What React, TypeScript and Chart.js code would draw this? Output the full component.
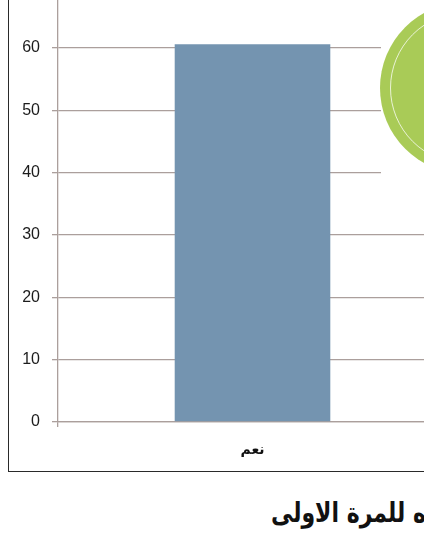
import React, { useEffect, useRef } from "react";
import { Chart, registerables } from "chart.js";

Chart.register(...registerables);

const categories: string[] = ["نعم"];
const values: number[] = [60.6];
const yTicks: number[] = [0, 10, 20, 30, 40, 50, 60, 70];
const caption = "ه للمرة الاولى";

const GRID = "#ab9f9c";
const BAR = "#7494b0";

export default function App() {
  const ref = useRef<HTMLCanvasElement | null>(null);

  useEffect(() => {
    if (!ref.current) return;
    const chart = new Chart(ref.current, {
      type: "bar",
      data: {
        labels: categories,
        datasets: [
          {
            data: values,
            backgroundColor: BAR,
            borderWidth: 0,
            barPercentage: 0.4,
            categoryPercentage: 1,
          },
        ],
      },
      options: {
        responsive: false,
        animation: false,
        events: [],
        layout: { padding: { top: 25.67, right: 33, left: 0, bottom: 0 } },
        plugins: { legend: { display: false }, tooltip: { enabled: false } },
        scales: {
          x: {
            type: "category",
            grid: {
              display: true,
              drawOnChartArea: false,
              drawTicks: true,
              tickLength: 5,
              color: GRID,
              lineWidth: 1.3,
            },
            border: { display: true, color: GRID, width: 1.3 },
            ticks: {
              color: "#111",
              padding: 15,
              font: { family: "'DejaVu Sans', sans-serif", size: 14, weight: "bold" },
            },
            afterFit: (s: any) => {
              s.height = 40;
            },
          },
          y: {
            min: yTicks[0],
            max: yTicks[yTicks.length - 1],
            afterBuildTicks: (s: any) => {
              s.ticks = yTicks.map((v) => ({ value: v }));
            },
            grid: {
              color: GRID,
              lineWidth: 1.3,
              drawTicks: true,
              tickLength: 6,
              tickColor: GRID,
            },
            border: { display: true, color: GRID, width: 1.3 },
            ticks: {
              color: "#1c1c1c",
              padding: 12,
              font: { family: "'Liberation Sans', Arial, sans-serif", size: 16 },
            },
            afterFit: (s: any) => {
              s.width = 58;
            },
          },
        },
      },
    });
    return () => chart.destroy();
  }, []);

  return (
    <div style={{ position: "fixed", inset: 0, overflow: "hidden", background: "#fff" }}>
      <div
        style={{
          position: "absolute",
          left: 8,
          top: -30,
          width: 520,
          height: 502,
          boxSizing: "border-box",
          border: "1.6px solid #2a2a2a",
        }}
      />
      <div style={{ position: "absolute", left: 0, top: -40, width: 480, height: 502 }}>
        <canvas ref={ref} width={480} height={502} style={{ display: "block" }} />
      </div>
      <div
        style={{
          position: "absolute",
          left: 381,
          top: 0,
          width: 60,
          height: 205,
          background: "#fff",
        }}
      />
      <div
        style={{
          position: "absolute",
          left: 380,
          top: 2,
          width: 172,
          height: 172,
          borderRadius: "50%",
          background: "#a9cb57",
        }}
      >
        <div
          style={{
            position: "absolute",
            inset: 10,
            borderRadius: "50%",
            border: "1px solid rgba(255,255,255,0.75)",
          }}
        />
      </div>
      <div
        style={{
          position: "absolute",
          right: -2,
          top: 494,
          direction: "rtl",
          whiteSpace: "nowrap",
          fontFamily: "'DejaVu Sans', sans-serif",
          fontWeight: "bold",
          fontSize: 22,
          lineHeight: "30px",
          color: "#111",
          transform: "scaleY(1.25)",
          transformOrigin: "right top",
        }}
      >
        {caption}
      </div>
    </div>
  );
}
